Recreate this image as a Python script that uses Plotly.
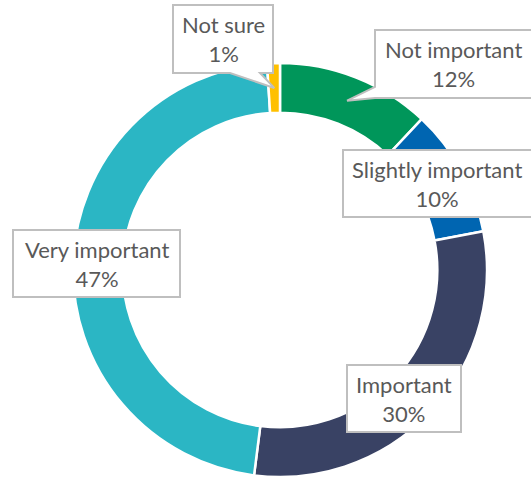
import math
import plotly.graph_objects as go

labels = ["Not important", "Slightly important", "Important", "Very important", "Not sure"]
values = [12, 10, 30, 47, 1]
colors = ["#00965A", "#0065B1", "#394264", "#2BB6C4", "#FFC000"]

W, H = 531, 483


def px(x):
    return x / W


def py(y):
    return 1 - y / H


# donut geometry in pixels
cx, cy, R = 280, 270, 207
hole = 0.76

# label box layout (pixels: left, top, right, bottom; callout side)
box_layout = {
    "Not sure": dict(box=(173, 5, 273, 73), call="bottom", base=(230, 260)),
    "Not important": dict(box=(375, 30, 534, 98), call="left", base=(87, 98)),
    "Slightly important": dict(box=(343, 150, 534, 217), call=None),
    "Important": dict(box=(347, 365, 461, 432), call=None),
    "Very important": dict(box=(13, 230, 180, 297), call=None),
}

fig = go.Figure(go.Pie(
    labels=labels, values=values, hole=hole, sort=False, direction="clockwise",
    rotation=0, marker=dict(colors=colors, line=dict(color="white", width=2.5)),
    textinfo="none", hoverinfo="label+percent", showlegend=False,
    domain=dict(x=[px(cx - R), px(cx + R)], y=[py(cy + R), py(cy - R)]),
))

total = sum(values)
cum = 0
annotations = []
shapes = []
rmid = R * (1 + hole) / 2
for lab, v in zip(labels, values):
    mid = (cum + v / 2) / total * 2 * math.pi
    cum += v
    b = box_layout[lab]
    l, t, r, btm = b["box"]
    tx = cx + rmid * math.sin(mid)
    ty = cy - rmid * math.cos(mid)
    if b["call"] == "bottom":
        a0, a1 = b["base"]
        pts = [(l, t), (r, t), (r, btm), (a1, btm), (tx, ty), (a0, btm), (l, btm)]
    elif b["call"] == "left":
        a0, a1 = b["base"]
        pts = [(l, t), (r, t), (r, btm), (l, a1), (tx, ty), (l, a0)]
    else:
        pts = [(l, t), (r, t), (r, btm), (l, btm)]
    path = "M " + " L ".join(f"{px(x):.5f},{py(y):.5f}" for x, y in pts) + " Z"
    shapes.append(dict(type="path", path=path, xref="paper", yref="paper",
                       fillcolor="white", line=dict(color="#BFBFBF", width=2), layer="above"))
    text = f"{lab}<br>{round(v / total * 100)}%"
    annotations.append(dict(
        text=text, x=px((l + min(r, W)) / 2), y=py((t + btm) / 2),
        xref="paper", yref="paper", showarrow=False, xanchor="center", yanchor="middle",
        font=dict(family="Lato, Carlito, Calibri, sans-serif", size=22, color="#595959"),
        align="center"))

fig.update_layout(width=W, height=H, margin=dict(l=0, r=0, t=0, b=0),
                  paper_bgcolor="white", plot_bgcolor="white",
                  annotations=annotations, shapes=shapes)
fig.write_html("out.html", config={"displayModeBar": False},
               post_script="document.body.style.margin='0';document.body.style.overflow='hidden';")
